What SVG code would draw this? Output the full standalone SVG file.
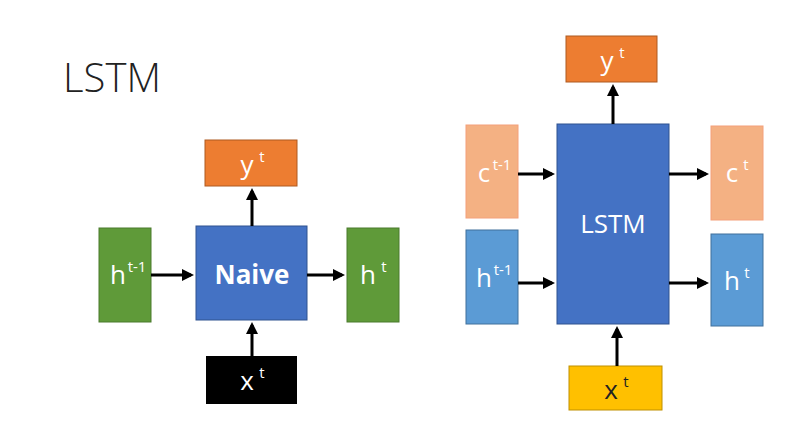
<svg xmlns="http://www.w3.org/2000/svg" width="808" height="436" viewBox="0 0 808 436">
<style>
text{font-family:"Open Sans","Liberation Sans",sans-serif;fill:#fff;text-anchor:middle}
.l{font-size:26px}
.s{font-size:15px}
.c{stroke:#000;stroke-width:3;fill:none;marker-end:url(#a)}
</style>
<defs><marker id="a" markerWidth="4" markerHeight="4" refX="3" refY="2" orient="auto"><path d="M0,0L4,2L0,4z" fill="#000"/></marker></defs>
<rect width="808" height="436" fill="#fff"/>
<text x="112" y="92" style="font-size:40px;fill:#222;font-weight:300">LSTM</text>
<g id="h1L"><rect x="99" y="228" width="52" height="94" fill="#5f9a39" stroke="#4a7a2c"/><text x="118" y="284" class="l">h</text><text x="137" y="272" class="s">t-1</text></g>
<g id="naive"><rect x="196" y="226" width="111" height="94" fill="#4472c4" stroke="#2f528f"/><text x="252" y="284" class="l" font-weight="bold">Naive</text></g>
<g id="htL"><rect x="347" y="228" width="52" height="94" fill="#5f9a39" stroke="#4a7a2c"/><text x="368" y="284" class="l">h</text><text x="384" y="272" class="s">t</text></g>
<g id="ytL"><rect x="205" y="140" width="92" height="46" fill="#ed7d31" stroke="#ae5a21"/><text x="247" y="174" class="l">y</text><text x="262" y="162" class="s">t</text></g>
<g id="xtL"><rect x="206" y="356" width="91" height="48" fill="#000"/><text x="247" y="390" class="l">x</text><text x="262" y="378" class="s">t</text></g>
<g id="ytR"><rect x="566" y="36" width="91" height="46" fill="#ed7d31" stroke="#ae5a21"/><text x="607" y="70" class="l">y</text><text x="622" y="58" class="s">t</text></g>
<g id="lstm"><rect x="557" y="124" width="112" height="200" fill="#4472c4" stroke="#2f528f"/><text x="613" y="233" class="l">LSTM</text></g>
<g id="c1R"><rect x="466" y="125" width="52" height="93" fill="#f4b183" stroke="#f4a07a"/><text x="484" y="182" class="l">c</text><text x="502" y="170" class="s">t-1</text></g>
<g id="h1R"><rect x="466" y="230" width="52" height="94" fill="#5b9bd5" stroke="#41719c"/><text x="484" y="287" class="l">h</text><text x="503" y="275" class="s">t-1</text></g>
<g id="ctR"><rect x="711" y="126" width="52" height="94" fill="#f4b183" stroke="#f4a07a"/><text x="732" y="182" class="l">c</text><text x="746" y="170" class="s">t</text></g>
<g id="htR"><rect x="711" y="234" width="52" height="92" fill="#5b9bd5" stroke="#41719c"/><text x="732" y="290" class="l">h</text><text x="747" y="278" class="s">t</text></g>
<g id="xtR"><rect x="569" y="366" width="93" height="44" fill="#ffc000" stroke="#bf9000"/><text x="611" y="399" class="l" style="fill:#222">x</text><text x="626" y="387" class="s" style="fill:#222">t</text></g>
<g id="connectors">
<path class="c" d="M151 275H191"/><path class="c" d="M307 275H342"/>
<path class="c" d="M252 226V191"/><path class="c" d="M252 356V325"/>
<path class="c" d="M518 174H552"/><path class="c" d="M518 283H552"/>
<path class="c" d="M669 174H706"/><path class="c" d="M669 283H706"/>
<path class="c" d="M613 124V87"/><path class="c" d="M617 366V329"/>
</g>
</svg>
